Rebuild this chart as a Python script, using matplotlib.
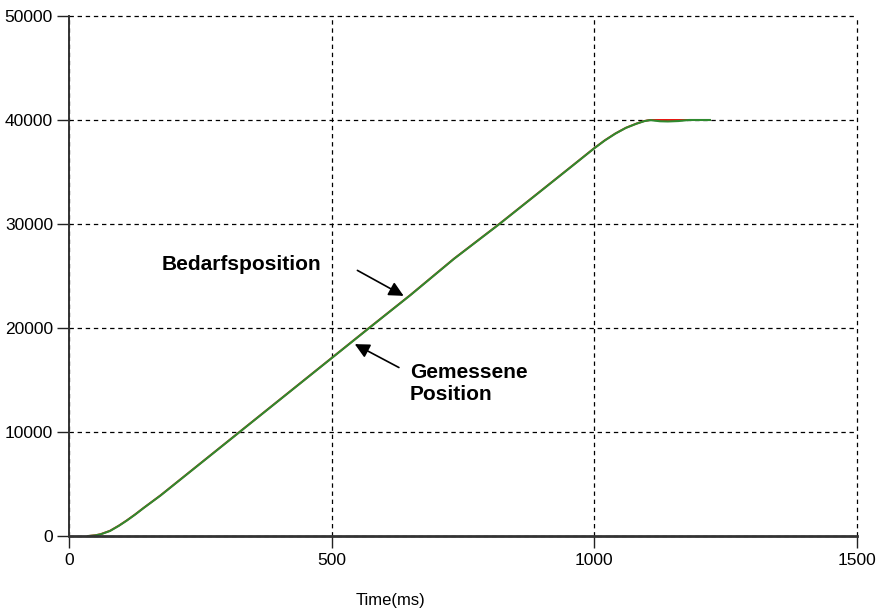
import matplotlib
matplotlib.use("Agg")
import matplotlib.pyplot as plt

plt.rcParams['font.family'] = ['Liberation Sans', 'DejaVu Sans']

# Position profile sampled along the move (time in ms, position in counts)
time_ms = [37, 50, 60, 78, 95, 110, 126, 142, 174, 237, 301, 400, 500,
           571, 650, 733, 819, 900, 960, 1000, 1020, 1040, 1060, 1080, 1095, 1106,
           1125, 1140, 1160, 1180, 1220]
demand_pos = [0, 70, 170, 500, 1000, 1500, 2080, 2700, 3900, 6455, 9050,
              13065, 17120, 20000, 23180, 26670, 30000, 33260, 35680, 37300,
              38050, 38700, 39250, 39650, 39900, 40000, 40000, 40000, 40000, 40000, 40000]
measured_pos = [0, 60, 160, 485, 985, 1485, 2065, 2690, 3885, 6440, 9035,
                13050, 17105, 19985, 23165, 26655, 29985, 33245, 35665, 37285,
                38035, 38690, 39240, 39640, 39890, 39990, 39880, 39860, 39900, 40000, 40000]

x_ticks = [0, 500, 1000, 1500]
y_ticks = [0, 10000, 20000, 30000, 40000, 50000]

fig = plt.figure(figsize=(8.88, 6.11), dpi=100)
ax = fig.add_axes([69/888, 1 - 536/611, (857 - 69)/888, (536 - 16)/611])

ax.plot(time_ms, demand_pos, color='#e8120c', lw=1.4, zorder=3)
ax.plot(time_ms, measured_pos, color='#2f8a2f', lw=1.5, zorder=4)

ax.set_xlim(0, 1500)
ax.set_ylim(0, 50000)
ax.set_xticks(x_ticks)
ax.set_yticks(y_ticks)
ax.tick_params(axis='both', direction='out', length=8.5, width=1.0,
               color='#222222', labelsize=12.5, pad=3)
ax.tick_params(axis='x', pad=4)

ax.grid(True, color='black', linestyle=(0, (3.5, 3)), linewidth=0.9)
ax.set_axisbelow(True)
for gl in ax.get_xgridlines() + ax.get_ygridlines():
    gl.set_clip_on(False)
for side in ('top', 'right'):
    ax.spines[side].set_visible(False)
for side in ('left', 'bottom'):
    ax.spines[side].set_color('#333333')
ax.spines['left'].set_linewidth(1.4)
ax.spines['bottom'].set_linewidth(2.0)
ax.spines['left'].set_zorder(5)
ax.spines['bottom'].set_zorder(5)

fig.text(390/888, 1 - 600/611, 'Time(ms)', ha='center', va='center',
         fontsize=12)

arrow = dict(arrowstyle='-|>', mutation_scale=22, lw=1.2, color='black',
             shrinkA=0, shrinkB=0)
ax.annotate('', xy=(637, 23090), xytext=(549, 25540), arrowprops=arrow)
ax.annotate('', xy=(544, 18450), xytext=(628, 16200), arrowprops=arrow)

ax.text(177, 26090, 'Bedarfsposition', ha='left', va='center',
        fontsize=15, fontweight='bold')
ax.text(649, 14640, 'Gemessene\nPosition', ha='left', va='center',
        fontsize=15, fontweight='bold', linespacing=1.2)

fig.savefig('out.png', dpi=100, facecolor='white')
